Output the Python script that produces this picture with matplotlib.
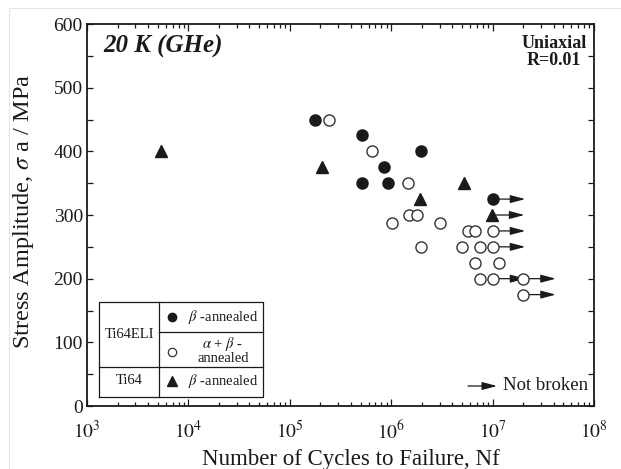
import matplotlib
matplotlib.use("Agg")
import matplotlib.pyplot as plt
import numpy as np
from matplotlib.lines import Line2D
from matplotlib.ticker import LogLocator, MultipleLocator, NullFormatter

plt.rcParams['font.family'] = ['Liberation Serif', 'DejaVu Serif']
plt.rcParams['mathtext.fontset'] = 'stix'

# Ti64ELI, beta-annealed
filled_n = [1.78e5, 5.2e5, 1.97e6, 8.4e5, 5.2e5, 9.3e5, 1.0e7]
filled_s = [450, 425, 400, 375, 350, 350, 325]
filled_nb = [False, False, False, False, False, False, True]

# Ti64ELI, alpha+beta-annealed
open_n = [2.44e5, 6.5e5, 1.48e6, 1.5e6, 1.8e6, 1.03e6, 3.0e6, 5.75e6, 6.7e6, 1.0e7,
          1.97e6, 5.0e6, 7.5e6, 1.0e7, 6.65e6, 1.16e7, 7.5e6, 1.0e7, 2.0e7, 2.0e7]
open_s = [450, 400, 350, 300, 300, 287.5, 287.5, 275, 275, 275,
          250, 250, 250, 250, 225, 225, 200, 200, 200, 175]
open_nb = [False] * 9 + [True] + [False] * 3 + [True] + [False] * 3 + [True, True, True]

# Ti64, beta-annealed
tri_n = [5.4e3, 2.1e5, 1.92e6, 5.2e6, 9.8e6]
tri_s = [400, 375, 325, 350, 300]
tri_nb = [False, False, False, False, True]

xtick_vals = [1e3, 1e4, 1e5, 1e6, 1e7, 1e8]
xtick_labels = [r'$10^{3}$', r'$10^{4}$', r'$10^{5}$', r'$10^{6}$', r'$10^{7}$', r'$10^{8}$']

ink = '#1a1a1a'
arrow_factor = 2.1   # run-out arrow length (multiplier on N)

fig = plt.figure(figsize=(6.21, 4.69), dpi=100)
ax = fig.add_axes([0.1401, 0.1343, 0.8164, 0.8145])

def runout_arrows(ns, ss, flags):
    for n, s, f in zip(ns, ss, flags):
        if f:
            ax.annotate('', xy=(n * arrow_factor, s), xytext=(n, s),
                        arrowprops=dict(arrowstyle='-|>,head_length=0.75,head_width=0.2',
                                        color=ink, lw=0.9, shrinkA=3, shrinkB=0,
                                        mutation_scale=12),
                        zorder=2)

runout_arrows(filled_n, filled_s, filled_nb)
runout_arrows(open_n, open_s, open_nb)
runout_arrows(tri_n, tri_s, tri_nb)

ax.plot(filled_n, filled_s, 'o', ms=8, mfc=ink, mec=ink, ls='none', zorder=3)
ax.plot(open_n, open_s, 'o', ms=8, mfc='white', mec='#333333', mew=1.0, ls='none', zorder=3)
ax.plot(tri_n, tri_s, '^', ms=8, mfc=ink, mec=ink, ls='none', zorder=3)

ax.set_xscale('log')
ax.set_xlim(1e3, 1e8)
ax.set_ylim(0, 600)
ax.set_xticks(xtick_vals)
ax.set_xticklabels(xtick_labels)
ax.xaxis.set_minor_locator(LogLocator(base=10, subs=np.arange(2, 10)))
ax.xaxis.set_minor_formatter(NullFormatter())
ax.yaxis.set_major_locator(MultipleLocator(100))
ax.yaxis.set_minor_locator(MultipleLocator(50))

ax.tick_params(which='both', direction='in', top=True, right=True, colors=ink, width=0.9)
ax.tick_params(axis='x', which='major', length=5, pad=10, labelsize=14)
ax.tick_params(axis='x', which='minor', length=3)
ax.tick_params(axis='y', which='both', length=4, pad=3, labelsize=14)
for sp in ax.spines.values():
    sp.set_linewidth(1.3)
    sp.set_color(ink)

ax.set_xlabel('Number of Cycles to Failure, Nf', fontsize=16.5, color=ink)
ax.xaxis.set_label_coords(0.52, -0.112)
ax.set_ylabel(r'Stress Amplitude, $\sigma$ a / MPa', fontsize=17.5, color=ink)
ax.yaxis.set_label_coords(-0.1, 0.51)

ax.text(0.032, 0.94, '20 K (GHe)', transform=ax.transAxes, fontsize=18,
        fontweight='bold', fontstyle='italic', va='center', ha='left', color=ink)
ax.text(0.985, 0.972, 'Uniaxial\nR=0.01', transform=ax.transAxes, fontsize=13,
        fontweight='bold', va='top', ha='right', multialignment='center',
        linespacing=1.05, color=ink)

# legend table, lower left
tr = ax.transAxes
x0, x1, xd = 0.0237, 0.3465, 0.1426
y0, y1, ymid, yrow = 0.0243, 0.273, 0.1013, 0.193
for xs, ys in [([x0, x1, x1, x0, x0], [y0, y0, y1, y1, y0]),
               ([xd, xd], [y0, y1]),
               ([x0, x1], [ymid, ymid]),
               ([xd, x1], [yrow, yrow])]:
    ax.add_line(Line2D(xs, ys, transform=tr, color=ink, lw=0.9, zorder=4))

mx = 0.1686
ax.plot([mx], [0.2338], 'o', ms=6, mfc=ink, mec=ink, transform=tr, zorder=4)
ax.plot([mx], [0.1421], 'o', ms=6, mfc='white', mec='#333333', mew=0.9, transform=tr, zorder=4)
ax.plot([mx], [0.0662], '^', ms=7, mfc=ink, mec=ink, transform=tr, zorder=4)

tk = dict(transform=tr, fontsize=10.5, color=ink, va='center', zorder=4)
ax.text(0.1998, 0.2338, r'$\beta$ -annealed', ha='left', **tk)
ax.text(0.268, 0.1623, r'$\alpha$ + $\beta$ -', ha='center', **tk)
ax.text(0.268, 0.1249, 'annealed', ha='center', **tk)
ax.text(0.1998, 0.0662, r'$\beta$ -annealed', ha='left', **tk)
ax.text(0.0832, 0.187, 'Ti64ELI', ha='center', **tk)
ax.text(0.0832, 0.0662, 'Ti64', ha='center', **tk)

# run-out key
ax.annotate('', xy=(0.8087, 0.0524), xytext=(0.7515, 0.0524), xycoords=tr, textcoords=tr,
            arrowprops=dict(arrowstyle='-|>,head_length=0.75,head_width=0.2', color=ink,
                            lw=0.9, shrinkA=0, shrinkB=0, mutation_scale=12))
ax.text(0.8205, 0.0524, 'Not broken', transform=tr, fontsize=13.5, color=ink,
        va='center', ha='left')

# faint page edge
fig.add_artist(Line2D([9 / 621, 9 / 621], [0, 1 - 8 / 469], transform=fig.transFigure,
                      color='#e6e6e6', lw=0.8))
fig.add_artist(Line2D([9 / 621, 1], [1 - 8 / 469, 1 - 8 / 469], transform=fig.transFigure,
                      color='#e6e6e6', lw=0.8))

fig.savefig('out.png', dpi=100)
